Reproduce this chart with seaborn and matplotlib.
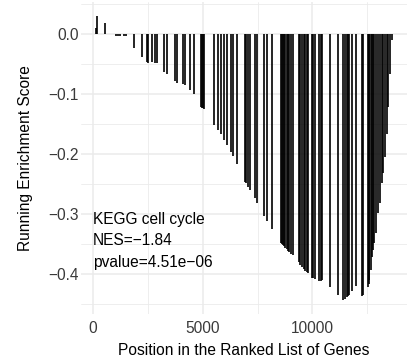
import numpy as np
import pandas as pd
import matplotlib
matplotlib.use("Agg")
import matplotlib.pyplot as plt
from matplotlib.ticker import MultipleLocator
import seaborn as sns

# hit positions of the gene set in the ranked list and the running score there
hit_position = [
    150, 180, 560, 1050, 1140, 1230, 1410, 1500, 1855, 2220,
    2450, 2495, 2700, 2825, 2930, 3235, 3390, 3740, 3840, 4115,
    4190, 4420, 4600, 4930, 4980, 5030, 5075, 5515, 5710, 5820,
    5970, 6120, 6275, 6365, 6550, 6930, 6975, 7080, 7170, 7385,
    7490, 7810, 7915, 8145, 8560, 8600, 8650, 8705, 8760, 8830,
    8890, 8950, 9040, 9130, 9390, 9450, 9510, 9615, 9680, 9740,
    9810, 10000, 10040, 10100, 10315, 10380, 10450, 10800, 11180, 11410,
    11485, 11565, 11620, 11670, 11790, 11975, 12280, 12320, 12520, 12560,
    12595, 12660, 12730, 12780, 12820, 12900, 12975, 13080, 13160, 13230,
    13310, 13385, 13460, 13535, 13615,
]
running_score = [
    0.010, 0.030, 0.018, -0.003, -0.003, -0.003, -0.004, -0.004, -0.024, -0.039,
    -0.047, -0.049, -0.047, -0.049, -0.049, -0.064, -0.067, -0.079, -0.081, -0.084,
    -0.085, -0.094, -0.100, -0.122, -0.123, -0.124, -0.125, -0.151, -0.160, -0.167,
    -0.176, -0.185, -0.196, -0.203, -0.216, -0.246, -0.248, -0.255, -0.260, -0.274,
    -0.282, -0.303, -0.311, -0.325, -0.349, -0.350, -0.352, -0.354, -0.356, -0.358,
    -0.361, -0.363, -0.366, -0.369, -0.380, -0.385, -0.388, -0.392, -0.395, -0.397,
    -0.399, -0.406, -0.407, -0.409, -0.412, -0.412, -0.410, -0.421, -0.435, -0.443,
    -0.441, -0.439, -0.437, -0.435, -0.429, -0.420, -0.436, -0.435, -0.422, -0.416,
    -0.410, -0.393, -0.371, -0.360, -0.349, -0.332, -0.299, -0.282, -0.249, -0.232,
    -0.205, -0.166, -0.121, -0.066, -0.010,
]
label_lines = ["KEGG cell cycle", "NES=\u22121.84", "pvalue=4.51e\u221206"]
label_y = [-0.3167, -0.3517, -0.3888]

sns.set_theme(style="whitegrid")
plt.rcParams["font.family"] = ["Liberation Sans", "DejaVu Sans"]

n = len(hit_position)
segs = pd.DataFrame({
    "hit": np.repeat(np.arange(n), 2),
    "position": np.repeat(hit_position, 2),
    "score": np.column_stack([np.zeros(n), running_score]).ravel(),
})

fig = plt.figure(figsize=(4.13, 3.62), dpi=100)
ax = fig.add_axes([0.1973, 0.1326, 0.787, 0.8624])
sns.lineplot(data=segs, x="position", y="score", units="hit", estimator=None,
             color="black", linewidth=1.2, solid_capstyle="butt", ax=ax, legend=False)

ax.xaxis.set_major_locator(MultipleLocator(5000))
ax.xaxis.set_minor_locator(MultipleLocator(2500))
ax.yaxis.set_major_locator(MultipleLocator(0.1))
ax.yaxis.set_minor_locator(MultipleLocator(0.05))
ax.grid(which="major", color="#EBEBEB", linewidth=1.1)
ax.grid(which="minor", color="#EBEBEB", linewidth=0.6)
ax.set_axisbelow(True)
for s in ax.spines.values():
    s.set_visible(False)
ax.tick_params(which="both", length=0, labelsize=11.2, colors="#3A3A3A")
ax.tick_params(axis="x", pad=5)
ax.tick_params(axis="y", pad=2)

for txt, yy in zip(label_lines, label_y):
    ax.text(0, yy, txt, ha="left", va="baseline", fontsize=11.2, color="black")

ax.set_xlabel("Position in the Ranked List of Genes", fontsize=11.2, color="black")
ax.set_ylabel("Running Enrichment Score", fontsize=11.2, color="black")
ax.xaxis.set_label_coords(0.5, -0.092)
ax.yaxis.set_label_coords(-0.173, 0.5)
ax.yaxis.label.set_va("center")
ax.xaxis.label.set_va("top")

fig.savefig("out.png", dpi=100)
